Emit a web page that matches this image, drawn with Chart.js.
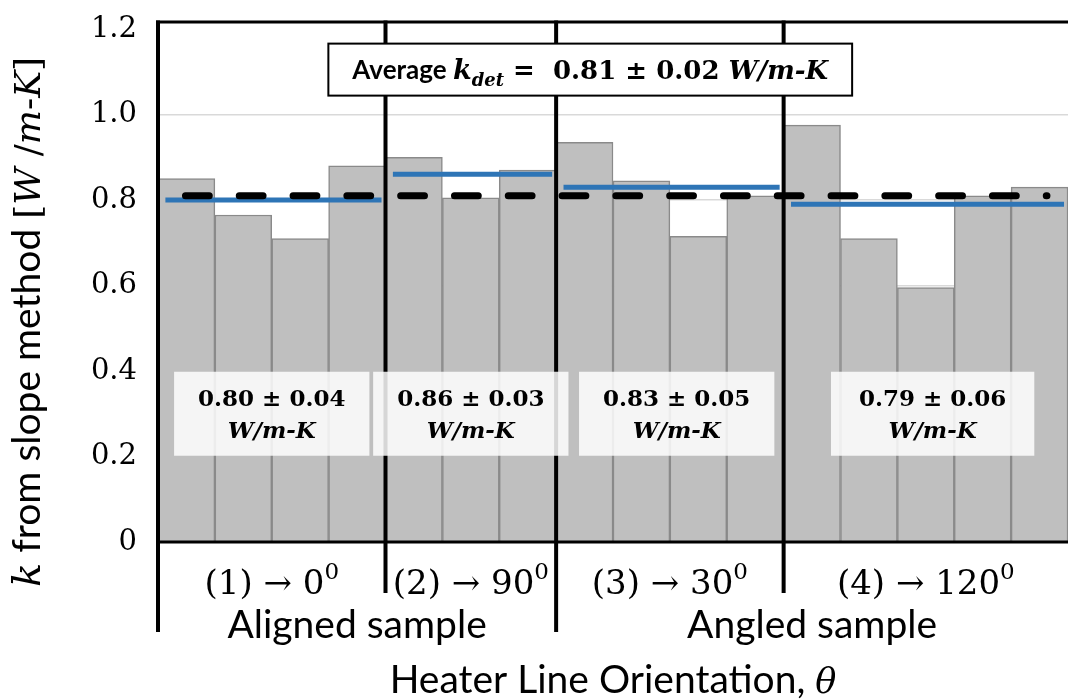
<!DOCTYPE html>
<html lang="en">
<head>
    <meta charset="UTF-8">
    <title>k from slope method</title>
</head>
<style>
    body {
        background-color: #ffffff;
        margin: 0;
        padding: 0;
    }
    .wrap {
        width: 1068px;
        height: 700px;
    }
</style>
<script src="https://cdn.jsdelivr.net/npm/chart.js"></script>
<body>
    <div class="wrap">
        <canvas id="chart" width="1068" height="700"></canvas>
    </div>

    <script>
        // measured k per run, grouped by heater line orientation
        const categories = ['1-1', '1-2', '1-3', '1-4', '2-1', '2-2', '2-3', '3-1', '3-2', '3-3', '3-4', '4-1', '4-2', '4-3', '4-4', '4-5'];
        const kValues = [0.85, 0.765, 0.71, 0.88, 0.90, 0.805, 0.87, 0.935, 0.845, 0.715, 0.81, 0.975, 0.71, 0.595, 0.81, 0.83];
        const groupSizes = [4, 3, 4, 5];
        const groupLabels = ['(1) → 0', '(2) → 90', '(3) → 30', '(4) → 120'];
        const groupMeans = [0.80, 0.86, 0.83, 0.79];
        const groupErrors = [0.04, 0.03, 0.05, 0.06];
        const overallMean = 0.81;
        const overallError = 0.02;
        const sampleLabels = ['Aligned sample', 'Angled sample'];
        const sampleGroups = [[0, 1], [2, 3]];
        const yTickLabels = ['0', '0.2', '0.4', '0.6', '0.8', '1.0', '1.2'];

        const SANS = 'Lato, "Open Sans", sans-serif';
        const SERIF = '"DejaVu Serif", serif';
        const blue = '#2e75b6';
        const total = kValues.length;

        // start index of every group along the bar axis
        const groupStarts = [];
        groupSizes.reduce((acc, n) => { groupStarts.push(acc); return acc + n; }, 0);

        // one blue segment per group at its mean
        const meanSets = groupMeans.map((m, i) => ({
            type: 'line',
            xAxisID: 'xl',
            data: [
                { x: groupStarts[i] + 0.13, y: m },
                { x: groupStarts[i] + groupSizes[i] - 0.07, y: m }
            ],
            borderColor: blue,
            borderWidth: 5,
            pointRadius: 0,
            fill: false,
            order: 1
        }));

        const avgSet = {
            type: 'line',
            xAxisID: 'xl',
            data: [{ x: 0.483, y: overallMean }, { x: 15.63, y: overallMean }],
            borderColor: '#000',
            borderWidth: 7,
            borderDash: [23.8, 30],
            borderCapStyle: 'round',
            pointRadius: 0,
            fill: false,
            order: 0
        };

        function drawRuns(ctx, runs, x, y, align) {
            let w = 0;
            runs.forEach(r => { ctx.font = r[1]; r.w = ctx.measureText(r[0]).width; w += r.w; });
            let cx = align === 'center' ? x - w / 2 : (align === 'right' ? x - w : x);
            ctx.textAlign = 'left';
            ctx.textBaseline = 'alphabetic';
            runs.forEach(r => { ctx.font = r[1]; ctx.fillText(r[0], cx, y + (r[2] || 0)); cx += r.w; });
            return w;
        }

        const decor = {
            id: 'decor',
            afterDatasetsDraw(chart) {
                const ctx = chart.ctx;
                const area = chart.chartArea;
                const xl = chart.scales.xl;
                const ys = chart.scales.y;
                const topY = area.top - 7;
                const sampleStarts = sampleGroups.map(g => groupStarts[g[0]]);

                ctx.save();
                ctx.strokeStyle = '#000';
                ctx.lineCap = 'butt';

                // frame: top edge and x axis
                ctx.lineWidth = 3;
                ctx.beginPath();
                ctx.moveTo(area.left - 2, topY);
                ctx.lineTo(area.right, topY);
                ctx.moveTo(area.left, area.bottom);
                ctx.lineTo(area.right, area.bottom);
                ctx.stroke();

                // group separators, longer where a sample starts
                ctx.lineWidth = 4;
                groupStarts.forEach(s => {
                    const px = xl.getPixelForValue(s);
                    const ext = sampleStarts.includes(s) ? 90 : 51;
                    ctx.beginPath();
                    ctx.moveTo(px, topY - 1.5);
                    ctx.lineTo(px, area.bottom + ext);
                    ctx.stroke();
                });

                // overall average box
                ctx.fillStyle = '#000';
                const avgRuns = [
                    ['Average ', `bold 26px ${SANS}`],
                    ['k', `italic bold 27px ${SERIF}`],
                    ['det', `italic bold 18px ${SERIF}`, 7],
                    [' =  ', `bold 26px ${SERIF}`],
                    [`${overallMean.toFixed(2)} ± ${overallError.toFixed(2)} `, `bold 26px ${SERIF}`],
                    ['W/m-K', `italic bold 26px ${SERIF}`]
                ];
                let tw = 0;
                avgRuns.forEach(r => { ctx.font = r[1]; tw += ctx.measureText(r[0]).width; });
                const bcx = xl.getPixelForValue(7.6);
                const bcy = ys.getPixelForValue(1.105);
                ctx.fillStyle = '#fff';
                ctx.fillRect(bcx - tw / 2 - 24, bcy - 26, tw + 48, 52);
                ctx.lineWidth = 2;
                ctx.strokeRect(bcx - tw / 2 - 24, bcy - 26, tw + 48, 52);
                ctx.fillStyle = '#000';
                drawRuns(ctx, avgRuns, bcx, bcy + 9, 'center');

                // per-group mean boxes
                groupMeans.forEach((m, i) => {
                    const gx = xl.getPixelForValue(groupStarts[i] + groupSizes[i] / 2 + (i > 1 ? 0.12 : 0));
                    const gy = ys.getPixelForValue(0.30);
                    const line1 = `${m.toFixed(2)} ± ${groupErrors[i].toFixed(2)}`;
                    ctx.font = `bold 23px ${SERIF}`;
                    const w = ctx.measureText(line1).width + (i === 3 ? 56 : 48);
                    ctx.fillStyle = 'rgba(255,255,255,0.84)';
                    ctx.fillRect(gx - w / 2, gy - 42, w, 84);
                    ctx.fillStyle = '#000';
                    drawRuns(ctx, [[line1, `bold 23px ${SERIF}`]], gx, gy - 8, 'center');
                    drawRuns(ctx, [['W/m-K', `italic bold 23px ${SERIF}`]], gx, gy + 24, 'center');
                });

                // category labels under the axis
                groupLabels.forEach((lab, i) => {
                    const gx = xl.getPixelForValue(groupStarts[i] + groupSizes[i] / 2);
                    drawRuns(ctx, [[lab, `34px ${SERIF}`], ['0', `23px ${SERIF}`, -15]], gx, area.bottom + 52, 'center');
                });
                sampleLabels.forEach((lab, i) => {
                    const g = sampleGroups[i];
                    const a = groupStarts[g[0]];
                    const b = groupStarts[g[g.length - 1]] + groupSizes[g[g.length - 1]];
                    const sx = xl.getPixelForValue((a + b) / 2);
                    drawRuns(ctx, [[lab, `39px ${SANS}`]], sx, area.bottom + 96, 'center');
                });
                drawRuns(ctx, [['Heater Line Orientation, ', `39px ${SANS}`], ['θ', `italic 35px ${SERIF}`]],
                    (area.left + area.right) / 2, area.bottom + 151, 'center');

                // rotated y title
                ctx.translate(40, 322);
                ctx.rotate(-Math.PI / 2);
                drawRuns(ctx, [
                    ['k', `italic 40px ${SERIF}`],
                    [' from slope method ', `39px ${SANS}`],
                    ['[', `36px ${SERIF}`],
                    ['W', `italic 36px ${SERIF}`],
                    [' /', `36px ${SERIF}`],
                    ['m', `italic 36px ${SERIF}`],
                    ['-', `36px ${SERIF}`],
                    ['K', `italic 36px ${SERIF}`],
                    [']', `36px ${SERIF}`]
                ], 0, 0, 'center');
                ctx.restore();
            }
        };

        const chart = new Chart(document.getElementById('chart'), {
            type: 'bar',
            data: {
                labels: categories,
                datasets: [{
                    data: kValues,
                    backgroundColor: '#bfbfbf',
                    borderColor: '#8a8a8a',
                    borderWidth: 1.5,
                    categoryPercentage: 1,
                    barPercentage: 1,
                    grouped: false,
                    order: 2
                }, ...meanSets, avgSet]
            },
            options: {
                responsive: false,
                animation: false,
                layout: { padding: { left: 0, right: 0, top: 29, bottom: 158 } },
                plugins: { legend: { display: false }, tooltip: { enabled: false } },
                scales: {
                    x: { display: false },
                    xl: { type: 'linear', display: false, offset: false, min: 0, max: total },
                    y: {
                        min: 0,
                        max: 1.2,
                        afterFit: s => { s.width = 158; s.paddingTop = 0; s.paddingBottom = 0; },
                        border: { display: false },
                        grid: {
                            drawTicks: false,
                            lineWidth: 1.5,
                            color: c => (c.tick.value > 0 && c.tick.value < 1.2) ? '#d9d9d9' : 'rgba(0,0,0,0)'
                        },
                        ticks: {
                            stepSize: 0.2,
                            padding: 21,
                            color: '#000',
                            font: { family: '"DejaVu Serif", serif', size: 29 },
                            callback: (v, i) => yTickLabels[i]
                        }
                    }
                }
            },
            plugins: [decor]
        });
    </script>
</body>
</html>
